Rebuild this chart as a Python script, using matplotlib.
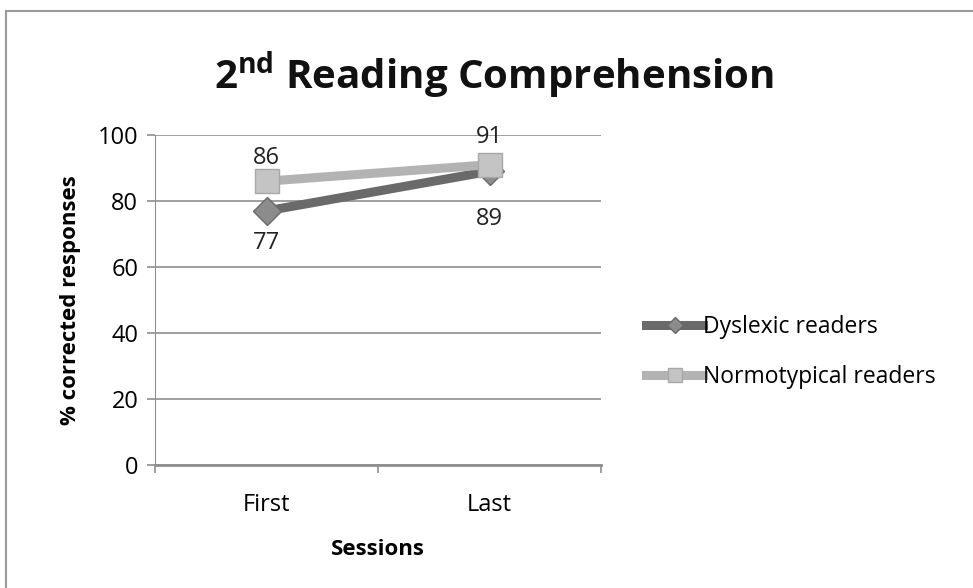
import matplotlib.pyplot as plt
from matplotlib.patches import Rectangle

plt.rcParams['font.family'] = ['Open Sans', 'DejaVu Sans']
plt.rcParams['mathtext.fontset'] = 'custom'
plt.rcParams['mathtext.rm'] = 'Open Sans'
plt.rcParams['mathtext.bf'] = 'Open Sans:bold'

sessions = ['First', 'Last']
dyslexic = [77, 89]
normo = [86, 91]
series_names = ['Dyslexic readers', 'Normotypical readers']

fig = plt.figure(figsize=(9.73, 5.88), dpi=100)
ax = fig.add_axes([0.1593, 0.2092, 0.4584, 0.5612])

# outer chart frame
fig.patches.append(Rectangle((6/973, -0.05), 1.2, 1 - 11/588 + 0.05, transform=fig.transFigure,
                             fill=False, edgecolor='#9a9a9a', linewidth=1.5))

x = list(range(len(sessions)))
ax.plot(x, dyslexic, color='#6a6a6a', lw=6.5, marker='D', ms=14,
        mfc='#8c8c8c', mec='#6a6a6a', mew=1, label=series_names[0], zorder=3)
ax.plot(x, normo, color='#b3b3b3', lw=6.5, marker='s', ms=17,
        mfc='#c4c4c4', mec='#a8a8a8', mew=1, label=series_names[1], zorder=4)

normo_off = [17, 20]
dys_off = [-23, -34]
for xi, v, o in zip(x, normo, normo_off):
    ax.annotate(str(v), (xi, v), xytext=(0, o), textcoords='offset points',
                ha='center', va='center', fontsize=17, color='#222222')
for xi, v, o in zip(x, dyslexic, dys_off):
    ax.annotate(str(v), (xi, v), xytext=(0, o), textcoords='offset points',
                ha='center', va='center', fontsize=17, color='#222222')

ax.set_ylim(0, 100)
ax.set_xlim(-0.5, len(sessions) - 0.5)
ax.set_yticks(range(0, 101, 20))
ax.yaxis.grid(True, color='#8f8f8f', lw=1.2)
ax.set_axisbelow(True)
ax.set_xticks([-0.5, 0.5, 1.5])
ax.set_xticklabels([])
ax.set_xticks(x, minor=True)
ax.set_xticklabels(sessions, minor=True)
ax.tick_params(axis='x', which='minor', length=0, pad=20, labelsize=17)
ax.tick_params(axis='x', which='major', length=6, color='#8f8f8f', width=1.2)
ax.tick_params(axis='y', length=6, color='#8f8f8f', width=1.2, labelsize=17, pad=6)
for s in ['top', 'right']:
    ax.spines[s].set_visible(False)
ax.spines['left'].set_color('#8f8f8f')
ax.spines['bottom'].set_color('#8f8f8f')
ax.spines['bottom'].set_linewidth(2)

ax.set_xlabel('Sessions', fontsize=16, fontweight='bold', labelpad=16)
ax.set_ylabel('% corrected responses', fontsize=16, fontweight='bold', labelpad=12)

fig.text(0.508, 0.872, r'2$^{\mathbf{nd}}$ Reading Comprehension', ha='center', va='center',
         fontsize=29, fontweight='bold', color='#111111')

ax.legend(loc='center left', bbox_to_anchor=(1.055, 0.342), frameon=False, fontsize=16.5,
          handlelength=2.5, handletextpad=0.0, labelspacing=1.15, markerscale=0.6)

fig.savefig('out.png', dpi=100)
